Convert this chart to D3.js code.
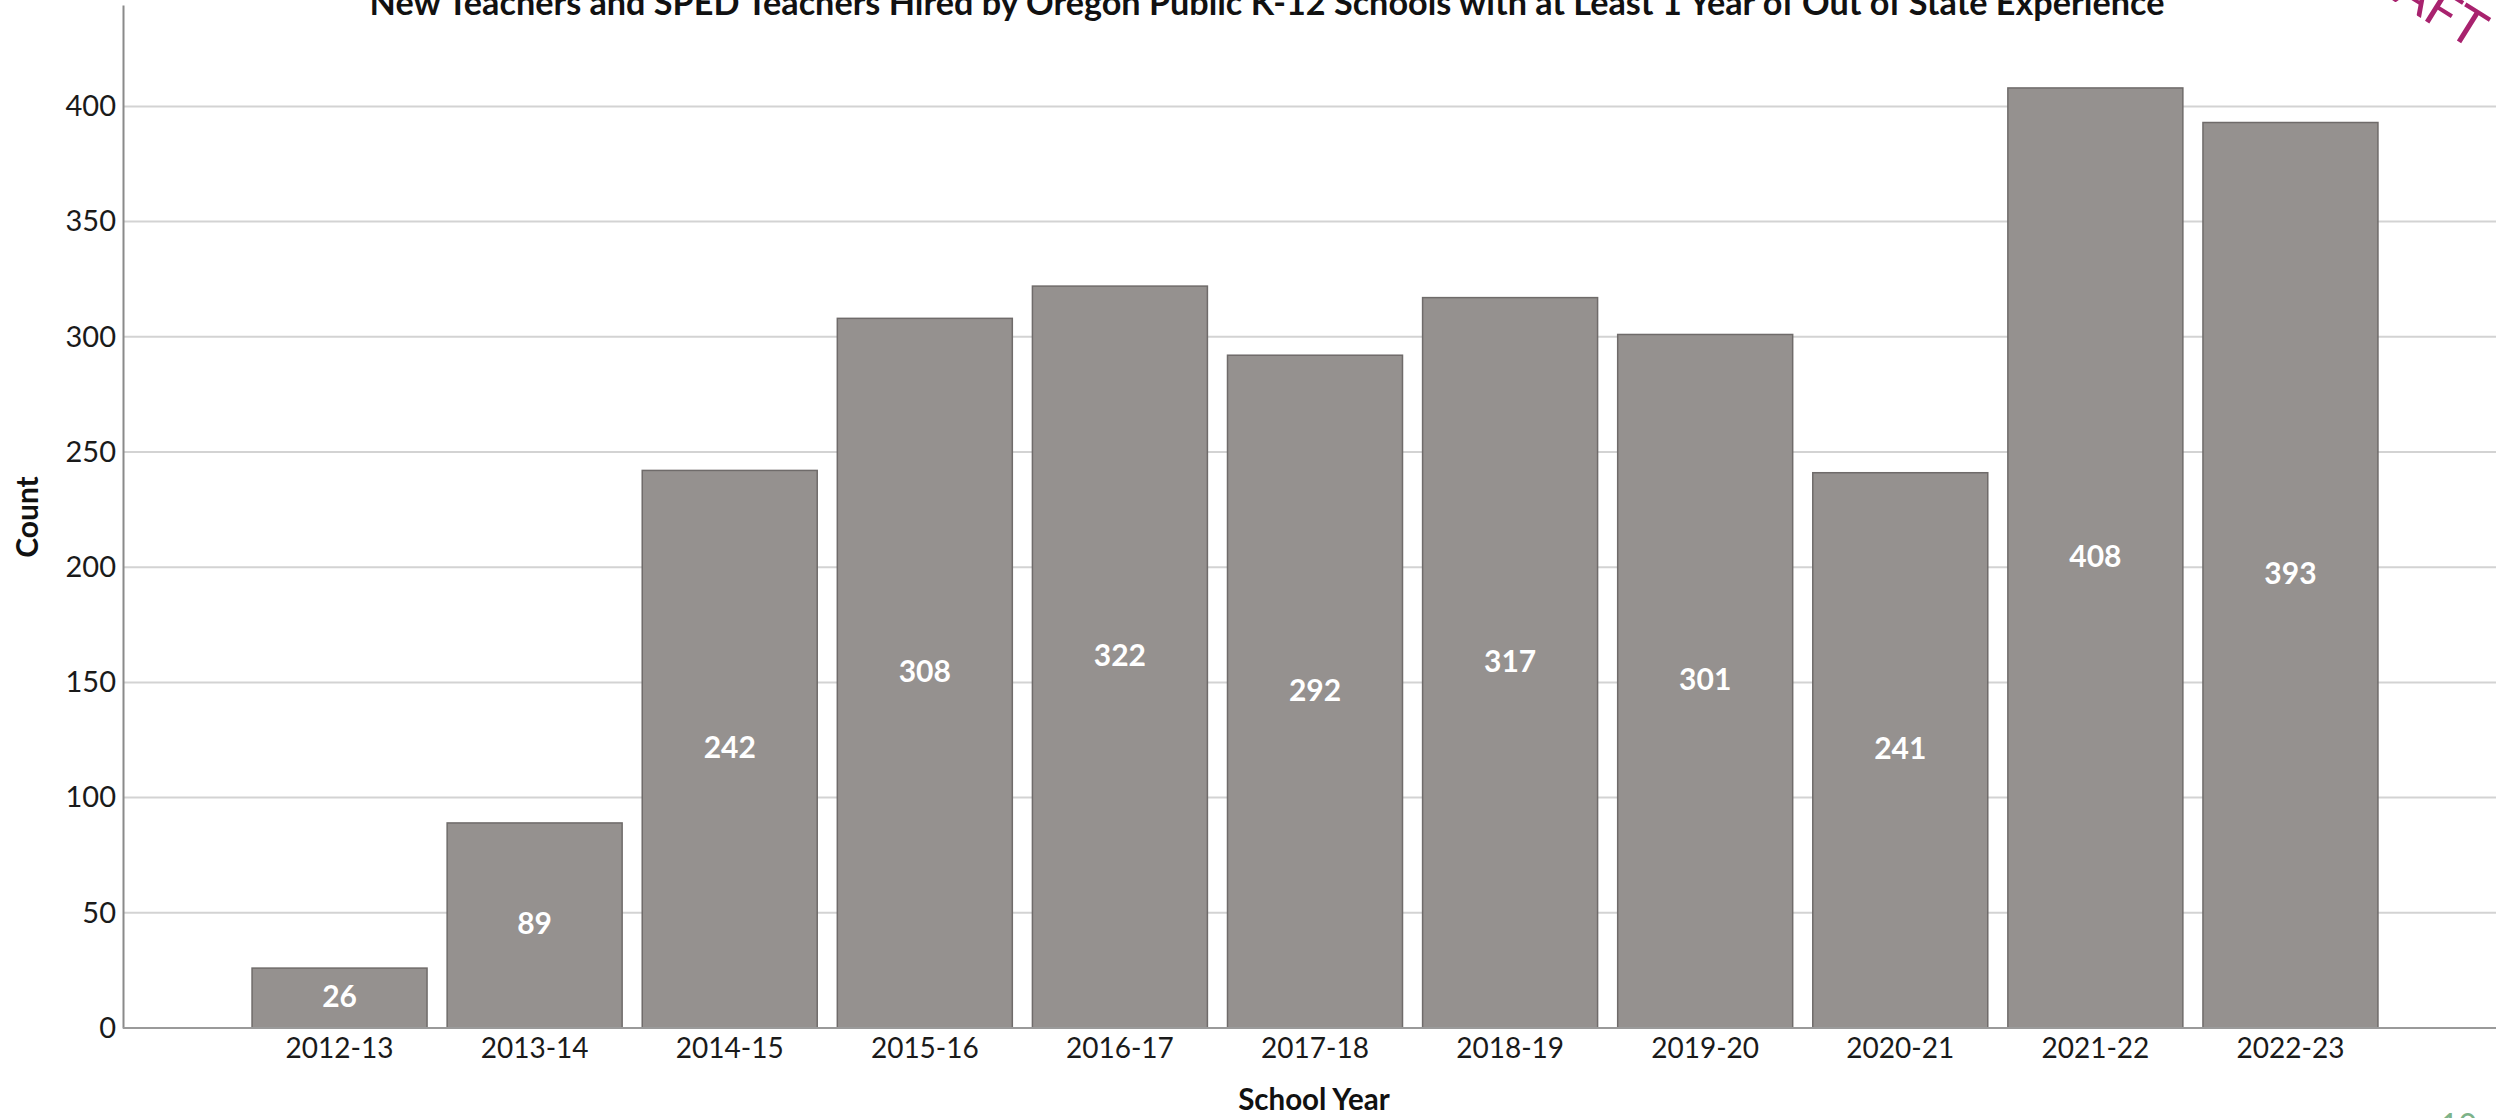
<!DOCTYPE html>
<html>
<head>
<meta charset="utf-8">
<script src="https://cdn.jsdelivr.net/npm/d3@7"></script>
<style>
  html, body { margin: 0; padding: 0; background: #ffffff; }
  svg { display: block; }
  text { font-family: Lato, "Open Sans", sans-serif; }
</style>
</head>
<body>
<svg id="chart" width="2496" height="1118"></svg>
<script>
// School years and hires with at least one year of out-of-state experience
const categories = ["2012-13", "2013-14", "2014-15", "2015-16", "2016-17", "2017-18",
                    "2018-19", "2019-20", "2020-21", "2021-22", "2022-23"];
const counts = [26, 89, 242, 308, 322, 292, 317, 301, 241, 408, 393];
const yTickValues = [0, 50, 100, 150, 200, 250, 300, 350, 400];

const titleText = "New Teachers and SPED Teachers Hired by Oregon Public K-12 Schools with at Least 1 Year of Out of State Experience";

const W = 2496, H = 1118;
const plot = { left: 123, right: 2496, top: 5, bottom: 1028 };

const svg = d3.select("#chart");

const x = d3.scaleBand()
  .domain(categories)
  .range([242, 2388])
  .paddingInner(0.103)
  .paddingOuter(0.0515);

const y = d3.scaleLinear()
  .domain([0, 444])
  .range([plot.bottom, plot.top]);

// horizontal gridlines
svg.append("g")
  .selectAll("line")
  .data(yTickValues.filter(d => d > 0))
  .join("line")
  .attr("x1", plot.left)
  .attr("x2", plot.right)
  .attr("y1", d => y(d))
  .attr("y2", d => y(d))
  .attr("stroke", "#d3d3d3")
  .attr("stroke-width", 2);

// bars
svg.append("g")
  .selectAll("rect")
  .data(counts)
  .join("rect")
  .attr("x", (d, i) => x(categories[i]))
  .attr("y", d => y(d))
  .attr("width", x.bandwidth())
  .attr("height", d => y(0) - y(d))
  .attr("fill", "#95918f")
  .attr("stroke", "#6f6b6a")
  .attr("stroke-width", 1.5);

// value labels centred in each bar
svg.append("g")
  .selectAll("text")
  .data(counts)
  .join("text")
  .attr("x", (d, i) => x(categories[i]) + x.bandwidth() / 2)
  .attr("y", d => (y(d) + y(0)) / 2 - 3)
  .attr("text-anchor", "middle")
  .attr("dominant-baseline", "central")
  .attr("fill", "#ffffff")
  .attr("font-weight", 700)
  .attr("font-size", 30)
  .text(d => d);

// y axis
const yAxis = d3.axisLeft(y).tickValues(yTickValues).tickSize(0).tickPadding(7);
const gy = svg.append("g").attr("transform", `translate(${plot.left},0)`).call(yAxis);
gy.select(".domain").attr("stroke", "#8a8a8a").attr("stroke-width", 2);
gy.selectAll("text").attr("font-size", 29).attr("fill", "#1a1a1a").attr("font-family", "Lato, sans-serif");

// x axis
const xAxis = d3.axisBottom(x).tickSize(0).tickPadding(10);
const gx = svg.append("g").attr("transform", `translate(0,${plot.bottom})`).call(xAxis);
gx.select(".domain").remove();
gx.selectAll("text").attr("font-size", 28).attr("fill", "#1a1a1a").attr("font-family", "Lato, sans-serif");
svg.append("line")
  .attr("x1", plot.left).attr("x2", plot.right)
  .attr("y1", y(0)).attr("y2", y(0))
  .attr("stroke", "#9a9a9a").attr("stroke-width", 2);

// axis titles
svg.append("text")
  .attr("transform", "translate(26,517) rotate(-90)")
  .attr("text-anchor", "middle")
  .attr("dominant-baseline", "central")
  .attr("font-weight", 700)
  .attr("font-size", 30)
  .attr("fill", "#111")
  .text("Count");

svg.append("text")
  .attr("x", 1314)
  .attr("y", 1110)
  .attr("text-anchor", "middle")
  .attr("font-weight", 700)
  .attr("font-size", 29.5)
  .attr("fill", "#111")
  .text("School Year");

// chart title, sized to span its line
const title = svg.append("text")
  .attr("x", 1267)
  .attr("y", 15)
  .attr("text-anchor", "middle")
  .attr("font-weight", 700)
  .attr("font-size", 32)
  .attr("fill", "#111")
  .text(titleText);
const tl = title.node().getComputedTextLength();
title.attr("font-size", 32 * 1796 / tl);

// draft stamp in the corner
svg.append("text")
  .attr("transform", "translate(2472,50) rotate(32)")
  .attr("text-anchor", "end")
  .attr("font-size", 52)
  .attr("fill", "#a8226e")
  .text("DRAFT");

// page number
svg.append("text")
  .attr("x", 2440)
  .attr("y", 1137)
  .attr("font-size", 32)
  .attr("fill", "#7db389")
  .text("10");
</script>
</body>
</html>
